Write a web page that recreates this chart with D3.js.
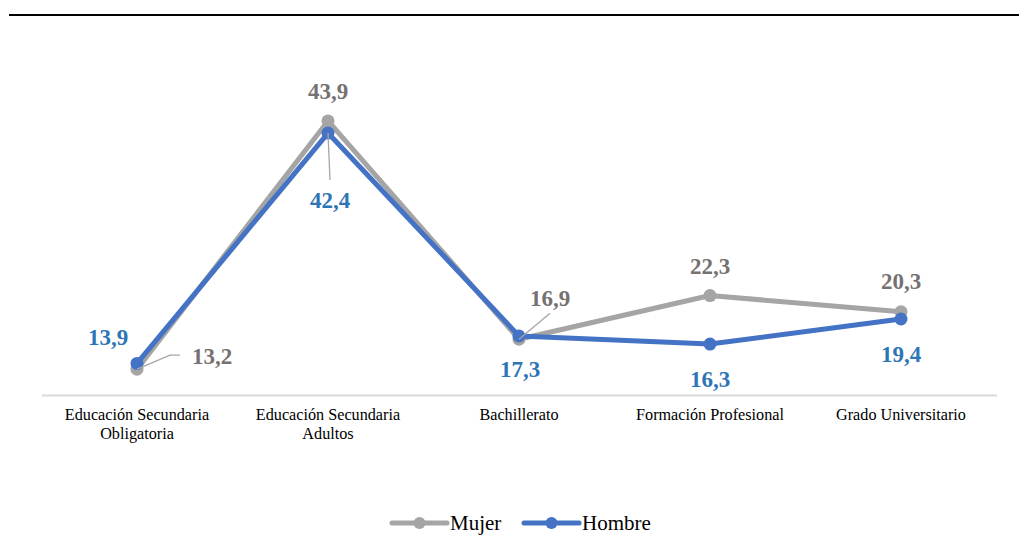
<!DOCTYPE html>
<html>
<head>
<meta charset="utf-8">
<script src="https://cdn.jsdelivr.net/npm/d3@7"></script>
<style>
  html, body { margin: 0; padding: 0; background: #fff; }
  svg text { font-family: "Liberation Serif", "Times New Roman", serif; }
</style>
</head>
<body>
<svg id="chart" width="1019" height="554"></svg>
<script>
// Categories (two-line labels) and series values
const categories = [
  ["Educación Secundaria", "Obligatoria"],
  ["Educación Secundaria", "Adultos"],
  ["Bachillerato"],
  ["Formación Profesional"],
  ["Grado Universitario"]
];
const mujer = [13.2, 43.9, 16.9, 22.3, 20.3];
const hombre = [13.9, 42.4, 17.3, 16.3, 19.4];
const seriesNames = ["Mujer", "Hombre"];

// Label placement per point: [dx, dy] offset from the point, plus optional leader line
const mujerLabelOffsets = [[75, -13], [0, -29], [31, -41], [0, -29], [0, -30]];
const hombreLabelOffsets = [[-29, -26], [2, 67], [1, 34], [0, 35], [0, 35]];
const mujerLeaders = [true, false, true, false, false];
const hombreLeaders = [false, true, false, false, false];

const colors = { Mujer: "#a5a5a5", Hombre: "#4472c4" };
const labelColors = { Mujer: "#767171", Hombre: "#2e75b6" };
const FONT = "'Liberation Serif', 'Times New Roman', serif";

const svg = d3.select("#chart");
const W = 1019;

// Top rule
svg.append("line")
  .attr("x1", 9).attr("x2", W).attr("y1", 15).attr("y2", 15)
  .attr("stroke", "#000").attr("stroke-width", 2);

const x = d3.scaleBand()
  .domain(d3.range(categories.length))
  .range([41.5, 996.5]);
const y = d3.scaleLinear().domain([10, 50]).range([395, 71.6]);
const cx = i => x(i) + x.bandwidth() / 2;

// Category axis
const axis = d3.axisBottom(x).tickSize(0).tickFormat(() => "");
const gAxis = svg.append("g").attr("transform", "translate(0,395)").call(axis);
gAxis.select(".domain").attr("stroke", "#d9d9d9").attr("stroke-width", 2);

const catLabels = svg.append("g");
categories.forEach((lines, i) => {
  const t = catLabels.append("text")
    .attr("x", cx(i)).attr("y", 420)
    .attr("text-anchor", "middle")
    .attr("font-family", FONT)
    .attr("font-size", 16.2)
    .attr("fill", "#000");
  lines.forEach((ln, j) => {
    t.append("tspan").attr("x", cx(i)).attr("dy", j === 0 ? 0 : 19).text(ln);
  });
});

const line = d3.line().x((d, i) => cx(i)).y(d => y(d));

function drawSeries(values, name) {
  const g = svg.append("g");
  g.append("path")
    .datum(values)
    .attr("d", line)
    .attr("fill", "none")
    .attr("stroke", colors[name])
    .attr("stroke-width", 5)
    .attr("stroke-linejoin", "round");
  g.selectAll("circle").data(values).join("circle")
    .attr("cx", (d, i) => cx(i))
    .attr("cy", d => y(d))
    .attr("r", 6.5)
    .attr("fill", colors[name]);
}
drawSeries(mujer, "Mujer");
drawSeries(hombre, "Hombre");

const fmt = v => d3.format(".1f")(v).replace(".", ",");

function drawLabels(values, name, offsets, leaders) {
  const g = svg.append("g");
  values.forEach((v, i) => {
    const px = cx(i), py = y(v);
    const [dx, dy] = offsets[i];
    const lx = px + dx, ly = py + dy;
    if (leaders[i]) {
      let pts;
      if (name === "Mujer" && i === 0) {
        pts = [[px, py], [px + 33, py - 14], [px + 43, py - 14]];
      } else if (name === "Mujer" && i === 2) {
        pts = [[px, py], [px + 31, py - 26]];
      } else {
        pts = [[px, py], [px + 2, py + 47]];
      }
      g.append("path")
        .attr("d", d3.line()(pts))
        .attr("fill", "none")
        .attr("stroke", "#a6a6a6")
        .attr("stroke-width", 1.3);
    }
    g.append("text")
      .attr("x", lx).attr("y", ly)
      .attr("text-anchor", "middle")
      .attr("dominant-baseline", "central")
      .attr("font-family", FONT)
      .attr("font-size", 23)
      .attr("font-weight", "bold")
      .attr("fill", labelColors[name])
      .text(fmt(v));
  });
}
drawLabels(mujer, "Mujer", mujerLabelOffsets, mujerLeaders);
drawLabels(hombre, "Hombre", hombreLabelOffsets, hombreLeaders);

// Legend
const legend = svg.append("g").attr("transform", "translate(0,523)");
const legendX = [392, 524];
seriesNames.forEach((name, i) => {
  const lg = legend.append("g").attr("transform", `translate(${legendX[i]},0)`);
  lg.append("line").attr("x1", 0).attr("x2", 55).attr("y1", 0).attr("y2", 0)
    .attr("stroke", colors[name]).attr("stroke-width", 5).attr("stroke-linecap", "round");
  lg.append("circle").attr("cx", 27.5).attr("cy", 0).attr("r", 6).attr("fill", colors[name]);
  lg.append("text").attr("x", 58).attr("y", 0)
    .attr("dominant-baseline", "central")
    .attr("font-family", FONT)
    .attr("font-size", 21).attr("fill", "#000").text(name);
});
</script>
</body>
</html>
